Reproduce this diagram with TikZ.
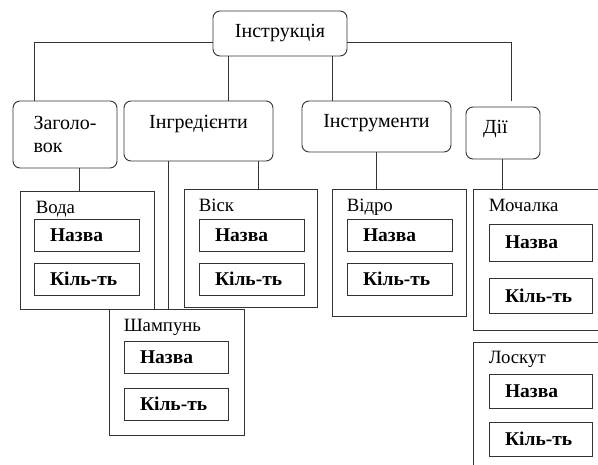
\documentclass[tikz,border=0pt]{standalone}
\usepackage{fontspec}
\setmainfont{Liberation Serif}

\begin{document}
\begin{tikzpicture}[x=1pt, y=-1pt,
  head/.style={draw=black!80, line width=0.9pt, rounded corners=7pt, inner sep=0pt, font=\fontsize{20}{22.5}\selectfont},
  group/.style={draw=black!80, line width=0.9pt, inner sep=0pt},
  field/.style={draw=black!80, line width=0.9pt, minimum height=32pt, text width=73pt, inner xsep=16pt, inner ysep=0pt, align=left, font=\fontsize{19.5}{22}\bfseries},
  title/.style={anchor=base west, inner sep=0pt, font=\fontsize{18.8}{20}\selectfont},
  link/.style={draw=black!80, line width=0.9pt}]

  \useasboundingbox (0,0) rectangle (598,464);
  \clip (0,0) rectangle (598,464);

  % top levels
  \node[head, minimum width=134pt, minimum height=45pt, text height=14pt, text depth=7pt] (instr) at (280,33.5) {Інструкція};
  \node[head, minimum width=104pt, minimum height=67pt, align=left] (zag) at (65,134.5) {Заголо-\\вок};
  \node[head, minimum width=149pt, minimum height=60pt, text height=14pt, text depth=20pt] (ingr) at (198.5,131) {Інгредієнти};
  \node[head, minimum width=149pt, minimum height=51pt, text height=14pt, text depth=13pt] (instrm) at (376.5,126.5) {Інструменти};
  \node[head, minimum width=74pt, minimum height=52pt, text height=14pt, text depth=14pt, text width=40pt, inner xsep=17pt, align=left] (dii) at (503,133) {Дії};

  % groups
  \node[group, minimum width=134pt, minimum height=118pt] (voda) at (87,250) {};
  \node[title] (voda-t) at ([xshift=16pt,yshift=-23pt]voda.north west) {Вода};
  \node[field] (voda-n) at (86.5,235) {Назва};
  \node[field] (voda-k) at (86.5,279) {Кіль-ть};

  \node[group, minimum width=133pt, minimum height=118pt] (visk) at (250.5,248) {};
  \node[title] (visk-t) at ([xshift=15pt,yshift=-23pt]visk.north west) {Віск};
  \node[field] (visk-n) at (251.5,235) {Назва};
  \node[field] (visk-k) at (251.5,279) {Кіль-ть};

  \node[group, minimum width=135pt, minimum height=126pt] (shamp) at (176.5,372) {};
  \node[title] (shamp-t) at ([xshift=15pt,yshift=-23pt]shamp.north west) {Шампунь};
  \node[field, text width=72pt] (shamp-n) at (176,357) {Назва};
  \node[field, text width=72pt] (shamp-k) at (176,404) {Кіль-ть};

  \node[group, minimum width=134pt, minimum height=127pt] (vidro) at (399,252.5) {};
  \node[title] (vidro-t) at ([xshift=15pt,yshift=-23pt]vidro.north west) {Відро};
  \node[field] (vidro-n) at (399.5,235) {Назва};
  \node[field] (vidro-k) at (399.5,279) {Кіль-ть};

  \node[group, minimum width=147pt, minimum height=141pt] (moch) at (546.5,259.5) {};
  \node[title] (moch-t) at ([xshift=16pt,yshift=-23pt]moch.north west) {Мочалка};
  \node[field, text width=71pt, minimum height=37pt] (moch-n) at (540.5,242.5) {Назва};
  \node[field, text width=71pt, minimum height=35pt] (moch-k) at (540.5,295.5) {Кіль-ть};

  \node[group, minimum width=147pt, minimum height=148pt] (losk) at (546.5,416) {};
  \node[title] (losk-t) at ([xshift=16pt,yshift=-22pt]losk.north west) {Лоскут};
  \node[field, text width=71pt, minimum height=34pt] (losk-n) at (540.5,391) {Назва};
  \node[field, text width=71pt, minimum height=34pt] (losk-k) at (540.5,439) {Кіль-ть};

  % links
  \draw[link] ([yshift=-8.5pt]instr.west) -| ([xshift=-31pt]zag.north);
  \draw[link] ([yshift=-8.5pt]instr.east) -| ([xshift=8pt,yshift=6pt]dii.north);
  \draw[link] ([xshift=-52pt]instr.south) -- ([xshift=-52pt]instr.south |- ingr.north);
  \draw[link] ([xshift=52pt]instr.south) -- ([xshift=52pt]instr.south |- instrm.north);
  \draw[link] ([xshift=14pt]zag.south) -- ([xshift=14pt]zag.south |- voda.north);
  \draw[link] ([xshift=-30.5pt]ingr.south) -- ([xshift=-30.5pt]ingr.south |- shamp.north);
  \draw[link] ([xshift=59.5pt]ingr.south) -- ([xshift=59.5pt]ingr.south |- visk.north);
  \draw[link] (instrm.south) -- (instrm.south |- vidro.north);
  \draw[link] ([xshift=-1pt]dii.south) -- ([xshift=-1pt]dii.south |- moch.north);

\end{tikzpicture}
\end{document}
